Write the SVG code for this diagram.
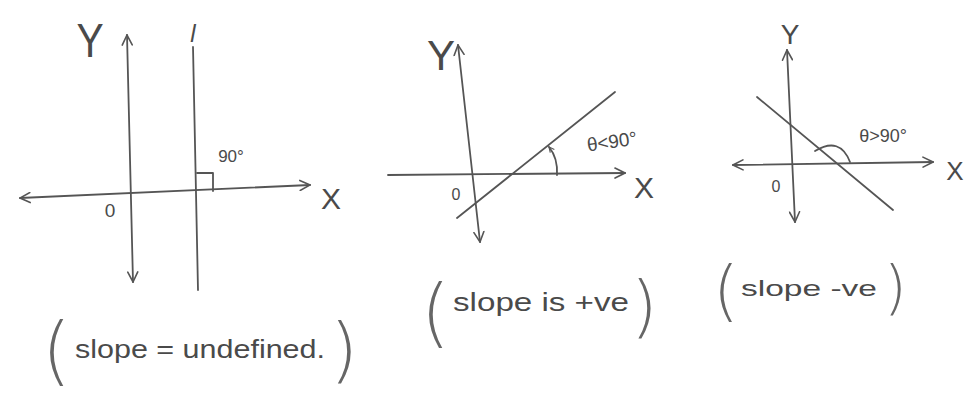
<svg xmlns="http://www.w3.org/2000/svg" width="975" height="397" viewBox="0 0 975 397">
<style>
.ln{stroke:#555;stroke-width:1.8;fill:none;stroke-linecap:round;stroke-linejoin:round}
.ax{stroke:#555;stroke-width:1.8;fill:none;stroke-linecap:round}
.t{font-family:"Liberation Sans",Arial,sans-serif;fill:#4a4a4a}
.p{font-family:"DejaVu Sans","Liberation Sans",sans-serif;fill:#666;font-weight:200}
</style>
<defs>
<marker id="arr" viewBox="0 0 12 12" refX="11" refY="6" markerWidth="12" markerHeight="12" markerUnits="userSpaceOnUse" orient="auto-start-reverse">
<path d="M1,1 L11,6 L1,11" fill="none" stroke="#555" stroke-width="1.6" stroke-linecap="round"/>
</marker>
<marker id="sarr" viewBox="0 0 8 8" refX="7" refY="4" markerWidth="7" markerHeight="7" markerUnits="userSpaceOnUse" orient="auto">
<path d="M1,1 L7,4 L1,7" fill="none" stroke="#555" stroke-width="1.3"/>
</marker>
</defs>
<rect width="975" height="397" fill="#ffffff"/>

<g id="panel1">
<line class="ax" x1="127" y1="35" x2="133" y2="282" marker-start="url(#arr)" marker-end="url(#arr)"/>
<line class="ax" x1="20" y1="198" x2="310" y2="185" marker-start="url(#arr)" marker-end="url(#arr)"/>
<line class="ln" x1="193" y1="47" x2="198" y2="290"/>
<polyline class="ln" points="197,173 213,173 213,191"/>
<text class="t" x="90" y="57" font-size="48" text-anchor="middle" transform="translate(90 0) scale(0.85 1) translate(-90 0)">Y</text>
<text class="t" x="193" y="42" font-size="24" font-style="italic" text-anchor="middle">l</text>
<text class="t" x="231" y="162" font-size="17" text-anchor="middle">90°</text>
<text class="t" x="110" y="217" font-size="19" text-anchor="middle">0</text>
<text class="t" x="331" y="209" font-size="30" text-anchor="middle">X</text>
<text class="p" x="42" y="376" font-size="74">(</text>
<text class="p" x="330" y="374" font-size="72">)</text>
<text class="t" x="75" y="358" font-size="26" textLength="250" lengthAdjust="spacingAndGlyphs">slope = undefined.</text>
</g>

<g id="panel2">
<line class="ax" x1="458" y1="45" x2="480" y2="242" marker-start="url(#arr)" marker-end="url(#arr)"/>
<line class="ax" x1="388" y1="175" x2="625" y2="173" marker-end="url(#arr)"/>
<line class="ln" x1="457" y1="218" x2="615" y2="92"/>
<path class="ln" d="M557,175 Q558,158 549,147" marker-end="url(#sarr)"/>
<text class="t" x="441" y="70" font-size="42" text-anchor="middle">Y</text>
<text class="t" x="644" y="198" font-size="30" text-anchor="middle">X</text>
<text class="t" x="456" y="200" font-size="16" text-anchor="middle">0</text>
<text class="t" x="612" y="148" font-size="19" text-anchor="middle" transform="rotate(-8 612 142)">θ&lt;90°</text>
<text class="p" x="421" y="338" font-size="74">(</text>
<text class="p" x="631" y="330" font-size="68">)</text>
<text class="t" x="453" y="311" font-size="25" textLength="176" lengthAdjust="spacingAndGlyphs">slope is +ve</text>
</g>

<g id="panel3">
<line class="ax" x1="787" y1="50" x2="795" y2="222" marker-start="url(#arr)" marker-end="url(#arr)"/>
<line class="ax" x1="733" y1="165" x2="933" y2="162" marker-start="url(#arr)" marker-end="url(#arr)"/>
<line class="ln" x1="757" y1="97" x2="893" y2="210"/>
<path class="ln" d="M815,151 Q840,136 850,162"/>
<text class="t" x="790" y="44" font-size="28" text-anchor="middle">Y</text>
<text class="t" x="955" y="180" font-size="26" text-anchor="middle">X</text>
<text class="t" x="776" y="192" font-size="16" text-anchor="middle">0</text>
<text class="t" x="883" y="142" font-size="18" text-anchor="middle">θ&gt;90°</text>
<text class="p" x="713" y="313" font-size="66">(</text>
<text class="p" x="884" y="308" font-size="58">)</text>
<text class="t" x="741" y="296" font-size="22" textLength="136" lengthAdjust="spacingAndGlyphs">slope -ve</text>
</g>
</svg>
